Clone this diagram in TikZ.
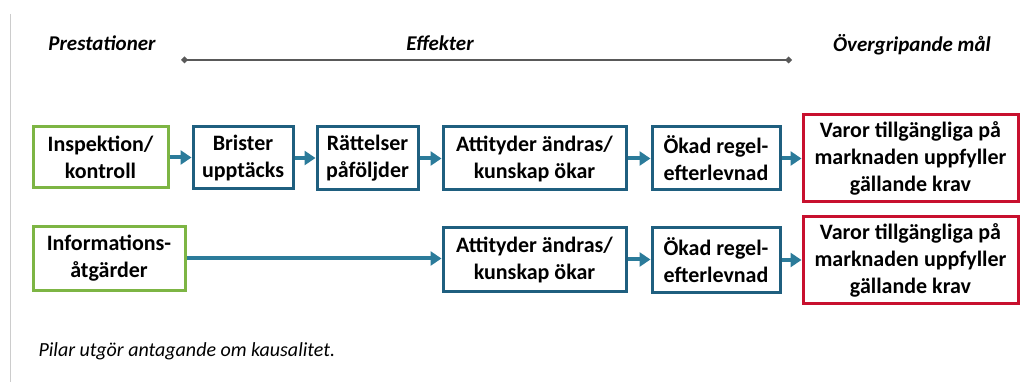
\documentclass[tikz,border=0pt]{standalone}
\usepackage{fontspec}
\setmainfont{Carlito}
\usetikzlibrary{arrows.meta}
\definecolor{boxblue}{HTML}{1F5F7F}
\definecolor{arrblue}{HTML}{2B7B9A}
\definecolor{boxgreen}{HTML}{7DB544}
\definecolor{boxred}{HTML}{C8102E}
\begin{document}
\begin{tikzpicture}[x=1pt,y=-1pt,
  box/.style={draw=boxblue,line width=3pt,fill=white,align=center,inner sep=0pt,
    font=\fontsize{22}{27}\selectfont\bfseries,text=black},
  gbox/.style={box,draw=boxgreen},
  rbox/.style={box,draw=boxred},
  arr/.style={draw=arrblue,line width=4pt,-{Triangle[length=11pt,width=14pt]}},
  head/.style={font=\fontsize{21}{24}\selectfont\bfseries\itshape,text=black},
]
\useasboundingbox (0,0) rectangle (1023,382);
\draw[black!20,line width=0.8pt] (10,14) -- (10,382);
% headings
\node[head] (hp) at (102,43) {Prestationer};
\node[head] (he) at (440,43) {Effekter};
\node[head] (hm) at (912,45) {Övergripande mål};
\coordinate (l1) at (181,60);
\coordinate (l2) at (792,60);
\draw[black!65,line width=1.2pt,{Diamond[length=7pt,width=7pt]}-{Diamond[length=7pt,width=7pt]}] (l1) -- (l2);
% row 1
\node[gbox,minimum width=135pt,minimum height=61pt] (insp) at (100.5,157.5) {Inspektion/\\kontroll};
\node[box,minimum width=100pt,minimum height=62pt] (brist) at (243,158) {Brister\\upptäcks};
\node[box,minimum width=101pt,minimum height=63pt] (ratt) at (367.5,158.5) {Rättelser\\påföljder};
\node[box,minimum width=183pt,minimum height=63pt] (att1) at (534.5,158.5) {Attityder ändras/\\kunskap ökar};
\node[box,minimum width=128pt,minimum height=63pt] (oka1) at (716,158.5) {Ökad regel-\\efterlevnad};
\node[rbox,minimum width=215pt,minimum height=87pt] (var1) at (910.5,158.5) {Varor tillgängliga på\\marknaden uppfyller\\gällande krav};
% row 2
\node[gbox,minimum width=152pt,minimum height=63pt] (info) at (109,258.5) {Informations-\\åtgärder};
\node[box,minimum width=183pt,minimum height=63pt] (att2) at (534.5,259.5) {Attityder ändras/\\kunskap ökar};
\node[box,minimum width=128pt,minimum height=64pt] (oka2) at (716,260) {Ökad regel-\\efterlevnad};
\node[rbox,minimum width=215pt,minimum height=86pt] (var2) at (910.5,260) {Varor tillgängliga på\\marknaden uppfyller\\gällande krav};
% arrows
\draw[arr] (insp.east) -- (insp.east -| brist.west);
\draw[arr] (brist.east) -- (brist.east -| ratt.west);
\draw[arr] (ratt.east) -- (ratt.east -| att1.west);
\draw[arr] (att1.east) -- (att1.east -| oka1.west);
\draw[arr] (oka1.east) -- (oka1.east -| var1.west);
\draw[arr] (info.east) -- (info.east -| att2.west);
\draw[arr] (att2.east) -- (att2.east -| oka2.west);
\draw[arr] (oka2.east) -- (oka2.east -| var2.west);
% footnote
\node[anchor=west,font=\fontsize{20}{24}\selectfont\itshape,text=black] (foot) at (35,351) {Pilar utgör antagande om kausalitet.};
\end{tikzpicture}
\end{document}
